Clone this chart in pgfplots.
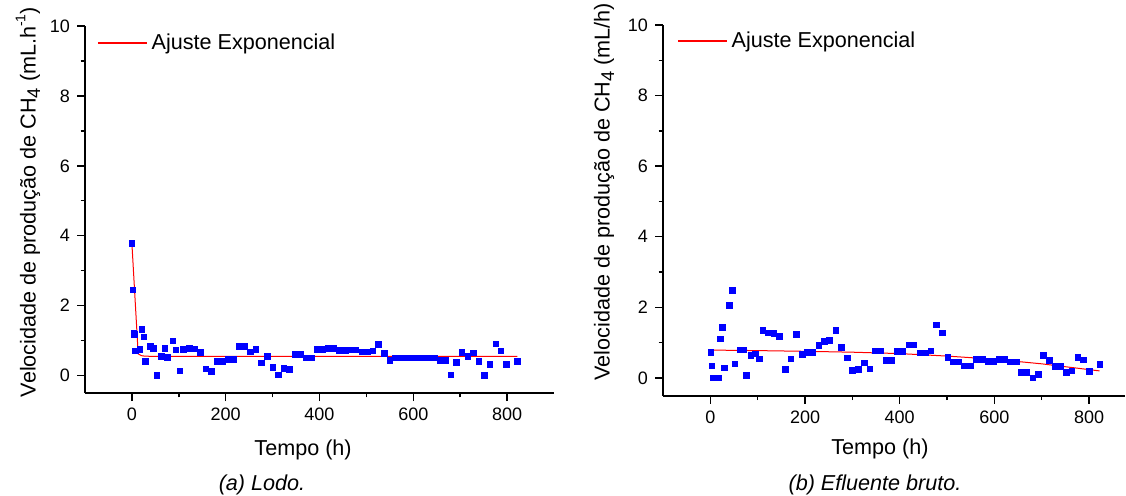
\documentclass[border=0pt]{standalone}
\usepackage{fontspec}
\setmainfont{Liberation Sans}
\usepackage{pgfplots}
\pgfplotsset{compat=1.18}
\newcommand{\lsub}[1]{\raisebox{-0.4ex}{\fontsize{9.2}{9}\selectfont #1}}
\newcommand{\lsup}[1]{\raisebox{0.9ex}{\fontsize{7}{8}\selectfont #1}}
\begin{document}
\begin{tikzpicture}
\useasboundingbox (0,0) rectangle (563pt,247.5pt);
\pgfplotsset{
  common/.style={
    scale only axis,
    anchor=south west,
    axis lines=left,
    axis line style={-, line width=0.9pt},
    tick align=outside,
    major tick length=4pt,
    minor tick length=2.2pt,
    every tick/.append style={black, line width=0.7pt},
    ymin=-0.5, ymax=10,
    xmin=-100,
    ytick={0,2,...,10},
    minor ytick={1,3,...,9},
    xtick={0,200,...,800},
    minor xtick={100,300,500,700},
    /pgf/number format/assume math mode=true,
    tick label style={font=\fontsize{9}{11}\selectfont},
    label style={font=\fontsize{10.8}{13}\selectfont},
    legend style={draw=none, fill=none, font=\fontsize{10.8}{13}\selectfont, inner sep=0pt, anchor=west},
    legend image code/.code={\draw[color=red, line width=0.6pt] (0pt,0pt) -- (24.5pt,0pt);},
    clip=false,
  }
}
\begin{axis}[common, at={(42.5pt,51pt)}, width=234.5pt, height=183.5pt, xmax=900,
  ylabel={Velocidade de produção de CH\lsub{4} (mL.h\lsup{-1})},
  ylabel style={at={(ticklabel cs:0.52)}},
  ylabel shift=-2pt,
  xlabel={Tempo (h)},
  xlabel style={at={(rel axis cs:0.465,0)}, anchor=base, yshift=-31pt},
  legend style={at={(rel axis cs:0,1)}, xshift=6pt, yshift=-8.5pt}]
\addplot[only marks, mark=square*, mark size=1.4pt, color=blue, forget plot] table {
t v
0 3.78
2 2.45
4 1.22
5 1.18
8 0.70
17 0.75
21 1.32
26 1.10
29 0.41
40 0.84
46 0.78
53 0.00
63 0.54
70 0.78
76 0.52
87 0.99
94 0.73
102 0.13
110 0.75
123 0.78
134 0.76
146 0.67
158 0.19
170 0.11
182 0.41
193 0.41
205 0.47
217 0.47
229 0.83
241 0.83
253 0.68
264 0.75
276 0.36
289 0.54
301 0.24
313 0.02
324 0.21
336 0.17
348 0.61
360 0.61
372 0.51
384 0.51
396 0.74
407 0.74
419 0.78
431 0.78
443 0.72
455 0.72
466 0.73
478 0.73
490 0.68
502 0.68
514 0.70
526 0.89
538 0.64
550 0.43
562 0.50
574 0.50
586 0.50
598 0.50
610 0.50
622 0.50
634 0.50
646 0.50
657 0.43
669 0.43
680 0.02
692 0.38
704 0.67
716 0.54
728 0.65
740 0.40
751 0.00
763 0.32
776 0.91
787 0.70
799 0.32
822 0.40
};
\addplot[color=red, line width=0.5pt, no marks] coordinates {
(0,3.78) (13.4,0.62) (20,0.57) (27,0.555) (40,0.55) (822,0.55)
};
\addlegendentry{Ajuste Exponencial}
\end{axis}

\begin{axis}[common, at={(331.5pt,49.7pt)}, width=230.8pt, height=185.3pt, xmax=875,
  ylabel={Velocidade de produção de CH\lsub{4} (mL/h)},
  ylabel style={at={(ticklabel cs:0.55)}},
  xlabel={Tempo (h)},
  xlabel style={at={(rel axis cs:0.47,0)}, anchor=base, yshift=-29.5pt},
  legend style={at={(rel axis cs:0,1)}, xshift=7pt, yshift=-8pt}]
\addplot[only marks, mark=square*, mark size=1.4pt, color=blue, forget plot] table {
t v
1 0.72
3 0.34
5 0.00
11 0.00
17 0.00
21 1.11
25 1.44
30 0.29
40 2.05
46 2.48
52 0.40
64 0.79
70 0.79
76 0.08
86 0.64
95 0.68
103 0.54
111 1.34
122 1.28
134 1.26
146 1.17
158 0.24
170 0.54
182 1.23
194 0.66
205 0.73
217 0.73
229 0.93
241 1.03
252 1.06
265 1.34
277 0.86
289 0.57
300 0.22
313 0.25
325 0.43
337 0.26
348 0.77
359 0.77
372 0.50
383 0.50
395 0.75
407 0.75
419 0.94
430 0.94
443 0.71
454 0.71
466 0.77
478 1.50
490 1.28
502 0.58
513 0.45
525 0.45
537 0.34
549 0.34
562 0.52
574 0.52
586 0.47
598 0.47
610 0.52
622 0.52
634 0.46
646 0.46
657 0.16
669 0.16
681 0.00
693 0.10
704 0.64
716 0.50
728 0.32
740 0.32
752 0.16
764 0.20
776 0.58
788 0.51
800 0.18
823 0.39
};
\addplot[color=red, line width=0.5pt, no marks] coordinates {
(0,0.79) (100,0.775) (200,0.755) (300,0.73) (400,0.69) (500,0.62) (600,0.53) (700,0.40) (822,0.20)
};
\addlegendentry{Ajuste Exponencial}
\end{axis}

\node[font=\itshape\fontsize{10.8}{13}\selectfont, anchor=base] at (131pt,2.5pt) {(a) Lodo.};
\node[font=\itshape\fontsize{10.8}{13}\selectfont, anchor=base] at (437.5pt,2.5pt) {(b) Efluente bruto.};
\end{tikzpicture}
\end{document}
